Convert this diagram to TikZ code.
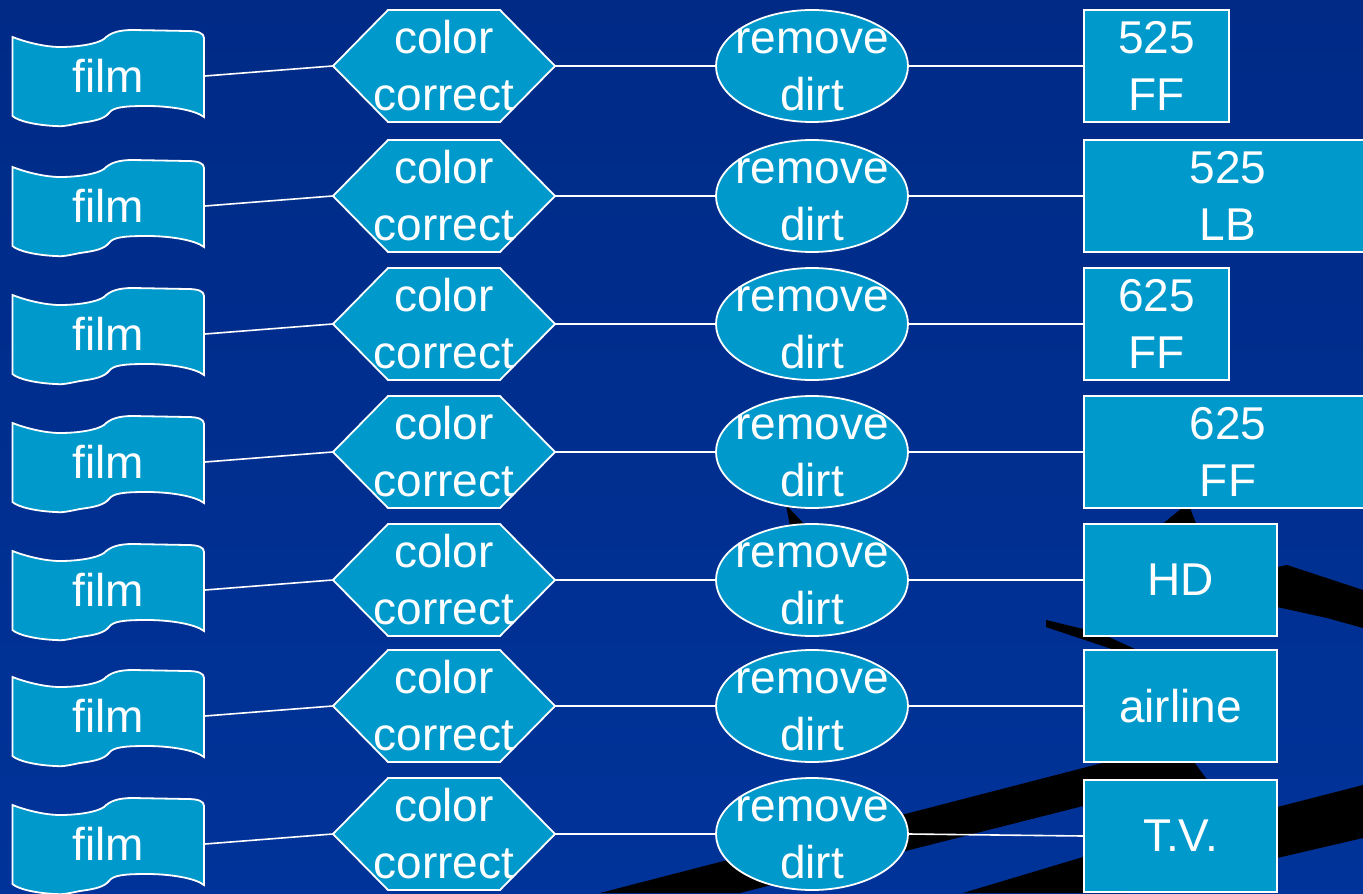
\documentclass[tikz,border=0pt]{standalone}
\usepackage{fontspec}
\setmainfont{Liberation Sans}
\usetikzlibrary{shapes.geometric}
\pgfdeclarelayer{bg}
\pgfdeclarelayer{wires}
\pgfsetlayers{bg,wires,main}
\definecolor{bgtop}{RGB}{0,42,134}
\definecolor{bgmain}{RGB}{0,51,153}
\definecolor{nodefill}{RGB}{0,153,204}
\tikzset{
  txt/.style={text=white, align=center, inner sep=0pt, font=\fontsize{23}{28.5}\selectfont},
  shapeline/.style={draw=white, line width=0.9pt, fill=nodefill},
  wire/.style={draw=white, line width=0.8pt},
  band/.style={fill=black},
  filmnode/.style={txt, minimum width=96pt, minimum height=40pt},
  hexnode/.style={txt, minimum width=111pt, minimum height=56pt},
  ellnode/.style={ellipse, shapeline, inner sep=0pt, minimum width=96pt, minimum height=56pt},
  boxnode/.style={txt, rectangle, shapeline, minimum height=56pt},
}
\begin{document}
\begin{tikzpicture}[x=0.5pt,y=-0.5pt]
\useasboundingbox (0,0) rectangle (1363,893);
\clip (0,0) rectangle (1363,893);
\begin{pgfonlayer}{bg}
\shade[top color=bgtop, middle color=bgmain, bottom color=bgmain] (0,0) rectangle (1363,893);
% black bands of the slide background
\fill[band] (600,893) -- (1083,768) -- (1180,743) -- (1222,800) -- (1083,806) -- (740,893) -- cycle;
\fill[band] (963,893) -- (1083,857) -- (1363,785) -- (1363,838) -- (1127,893) -- cycle;
\fill[band] (1240,575) -- (1287,565) -- (1363,590) -- (1363,628) -- (1327,618) -- (1277,607) -- (1240,600) -- cycle;
\fill[band] (1046,620) -- (1100,633) -- (1135,649) -- (1112,649) -- (1046,627) -- cycle;
\fill[band] (1160,526) -- (1182,508) -- (1190,508) -- (1197,526) -- cycle;
\fill[band] (786,505) -- (790,526) -- (806,526) -- cycle;
\end{pgfonlayer}
\foreach \r/\c in {1/66,2/196,3/324,4/452,5/580,6/706,7/834} {
  \pgfmathsetmacro\d{\c-66}
  \filldraw[shapeline, shift={(0,\d)}]
    (12.5,37) .. controls (25,42) and (45,47) .. (60,47)
    .. controls (78,47) and (97,44) .. (104,39)
    .. controls (110,33) and (118,30) .. (133,30)
    -- (187,31) .. controls (198,31) and (204,33) .. (204,38)
    -- (204,117)
    .. controls (195,110) and (170,106) .. (147,106)
    .. controls (125,106) and (113,107) .. (109,113)
    .. controls (104,119) and (95,121) .. (80,123)
    .. controls (70,125) and (62,127) .. (55,126)
    .. controls (35,125) and (18,121) .. (12.5,116)
    -- cycle;
  \filldraw[shapeline, shift={(0,\d)}]
    (333,66) -- (388,10) -- (500,10) -- (555,66) -- (500,122) -- (388,122) -- cycle;
  \node[filmnode] (f\r) at (108.5,\c+10) {film};
  \node[hexnode] (h\r) at (444,\c) {\vphantom{l}color\\correct};
  \node[ellnode] (e\r) at (812,\c) {};
  \node[txt] at (e\r) {\vphantom{l}remove\\dirt};
}
\node[boxnode, minimum width=72.5pt] (b1) at (1156.5,66) {525\\FF};
\node[boxnode, minimum width=144pt] (b2) at (1228,196) {525\\LB};
\node[boxnode, minimum width=72.5pt] (b3) at (1156.5,324) {625\\FF};
\node[boxnode, minimum width=144pt] (b4) at (1228,452) {625\\FF};
\node[boxnode, minimum width=96.5pt] (b5) at (1180.5,580) {HD};
\node[boxnode, minimum width=96.5pt] (b6) at (1180.5,706) {airline};
\node[boxnode, minimum width=96.5pt] (b7) at (1180.5,836) {T.V.};
\begin{pgfonlayer}{wires}
\foreach \r in {1,...,7} {
  \draw[wire] (f\r.east) -- (h\r.west);
  \draw[wire] (h\r.east) -- (e\r.west);
  \draw[wire] (e\r.east) -- (b\r.west);
}
\end{pgfonlayer}
\end{tikzpicture}
\end{document}
